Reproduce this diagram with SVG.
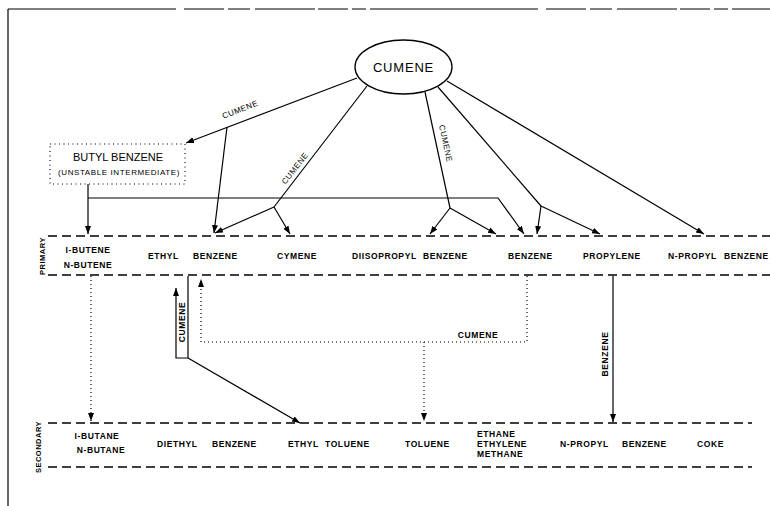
<svg xmlns="http://www.w3.org/2000/svg" width="770" height="506" viewBox="0 0 770 506">
<defs>
<marker id="ah" markerUnits="userSpaceOnUse" markerWidth="9" markerHeight="7" refX="8" refY="3" orient="auto"><path d="M0,0 L8,3 L0,6 z" fill="#000"/></marker>
<style>
.t{font-family:"Liberation Sans",Arial,sans-serif;font-weight:bold;font-size:8.5px;letter-spacing:0.6px;fill:#000}
.r{font-family:"Liberation Sans",Arial,sans-serif;font-size:8px;letter-spacing:0.5px;fill:#000}
.s{stroke:#000;stroke-width:1.2;fill:none}
.d{stroke:#000;stroke-width:1.2;fill:none;stroke-dasharray:1 3}
.band{stroke:#000;stroke-width:1.3;fill:none;stroke-dasharray:9 5}
</style>
</defs>
<rect width="770" height="506" fill="#fff"/>
<g id="frame">
<path d="M8,9 H770" stroke="#000" stroke-width="1.1" stroke-dasharray="168 8 40 4 22 5 60 3 30 4 14 4"/>
<path d="M8,9 V506" stroke="#000" stroke-width="1.2"/>
<path class="band" d="M48,236 H770 M48,275 H770 M48,423 H752 M48,467 H752"/>
<text class="t" style="font-size:7.5px;letter-spacing:0.5px" transform="translate(45,256) rotate(-90)" text-anchor="middle">PRIMARY</text>
<text class="t" style="font-size:7.5px;letter-spacing:0.5px" transform="translate(41,447) rotate(-90)" text-anchor="middle">SECONDARY</text>
</g>
<g id="connectors">
<path class="s" d="M357,78 L186,143" marker-end="url(#ah)"/>
<text class="r" transform="translate(241,112) rotate(-21)" text-anchor="middle">CUMENE</text>
<path class="s" d="M227,127 L214,233" marker-end="url(#ah)"/>
<path class="s" d="M367,86 L274,207"/>
<text class="r" transform="translate(297,170) rotate(-52)" text-anchor="middle">CUMENE</text>
<path class="s" d="M274,207 L215,233" marker-end="url(#ah)"/>
<path class="s" d="M274,207 L290,234" marker-end="url(#ah)"/>
<path class="s" d="M425,92 L450,208"/>
<text class="r" transform="translate(443,144) rotate(78)" text-anchor="middle">CUMENE</text>
<path class="s" d="M450,208 L430,234" marker-end="url(#ah)"/>
<path class="s" d="M450,208 L496,234" marker-end="url(#ah)"/>
<path class="s" d="M438,87 L541,206"/>
<path class="s" d="M541,206 L537,234" marker-end="url(#ah)"/>
<path class="s" d="M541,206 L600,234" marker-end="url(#ah)"/>
<path class="s" d="M447,81 L704,234" marker-end="url(#ah)"/>
<path class="s" d="M88,184 V234" marker-end="url(#ah)"/>
<path class="s" d="M88,198 H498 L524,234" marker-end="url(#ah)"/>
<path class="d" d="M91,276 V421" marker-end="url(#ah)"/>
<path class="s" d="M188,276 V358 H176 V288" marker-end="url(#ah)"/>
<text class="t" transform="translate(185,322) rotate(-90)" text-anchor="middle">CUMENE</text>
<path class="s" d="M188,358 L300,423" marker-end="url(#ah)"/>
<path class="d" d="M527,276 V342 H201 V279" marker-end="url(#ah)"/>
<text class="t" x="478" y="338" text-anchor="middle">CUMENE</text>
<path class="d" d="M424,342 V421" marker-end="url(#ah)"/>
<path class="s" d="M613,276 V422" marker-end="url(#ah)"/>
<text class="t" transform="translate(608,354) rotate(-90)" text-anchor="middle">BENZENE</text>
</g>
<g id="cumene">
<ellipse cx="403.5" cy="67" rx="48.5" ry="27" fill="#fff" stroke="#000" stroke-width="1.3"/>
<text x="403.5" y="72" text-anchor="middle" style="font-family:'Liberation Sans',Arial,sans-serif;font-size:13px;letter-spacing:0.8px">CUMENE</text>
</g>
<g id="butyl-benzene">
<rect x="50" y="144" width="135" height="40" fill="none" stroke="#000" stroke-width="1.1" stroke-dasharray="1 3.5"/>
<text x="118" y="161" text-anchor="middle" style="font-family:'Liberation Sans',Arial,sans-serif;font-size:11px">BUTYL BENZENE</text>
<text x="119" y="175" text-anchor="middle" style="font-family:'Liberation Sans',Arial,sans-serif;font-size:8px;letter-spacing:0.6px">(UNSTABLE INTERMEDIATE)</text>
</g>
<g id="primary-butenes"><text class="t" x="88" y="253" text-anchor="middle">I-BUTENE</text><text class="t" x="88" y="268" text-anchor="middle">N-BUTENE</text></g>
<g id="primary-ethyl-benzene"><text class="t"><tspan x="148" y="259">ETHYL</tspan><tspan x="193" y="259">BENZENE</tspan></text></g>
<g id="primary-cymene"><text class="t" x="277" y="259">CYMENE</text></g>
<g id="primary-diisopropyl-benzene"><text class="t"><tspan x="352" y="259">DIISOPROPYL</tspan><tspan x="423" y="259">BENZENE</tspan></text></g>
<g id="primary-benzene"><text class="t" x="508" y="259">BENZENE</text></g>
<g id="primary-propylene"><text class="t" x="583" y="259">PROPYLENE</text></g>
<g id="primary-n-propyl-benzene"><text class="t"><tspan x="668" y="259">N-PROPYL</tspan><tspan x="724" y="259">BENZENE</tspan></text></g>
<g id="secondary-butanes"><text class="t" x="97" y="439" text-anchor="middle">I-BUTANE</text><text class="t" x="101" y="453" text-anchor="middle">N-BUTANE</text></g>
<g id="secondary-diethyl-benzene"><text class="t"><tspan x="157" y="447">DIETHYL</tspan><tspan x="212" y="447">BENZENE</tspan></text></g>
<g id="secondary-ethyl-toluene"><text class="t"><tspan x="288" y="447">ETHYL</tspan><tspan x="325" y="447">TOLUENE</tspan></text></g>
<g id="secondary-toluene"><text class="t" x="405" y="447">TOLUENE</text></g>
<g id="secondary-gases"><text class="t" x="477" y="437">ETHANE</text><text class="t" x="477" y="447">ETHYLENE</text><text class="t" x="477" y="457">METHANE</text></g>
<g id="secondary-n-propyl-benzene"><text class="t"><tspan x="560" y="447">N-PROPYL</tspan><tspan x="622" y="447">BENZENE</tspan></text></g>
<g id="secondary-coke"><text class="t" x="697" y="447">COKE</text></g>
</svg>
